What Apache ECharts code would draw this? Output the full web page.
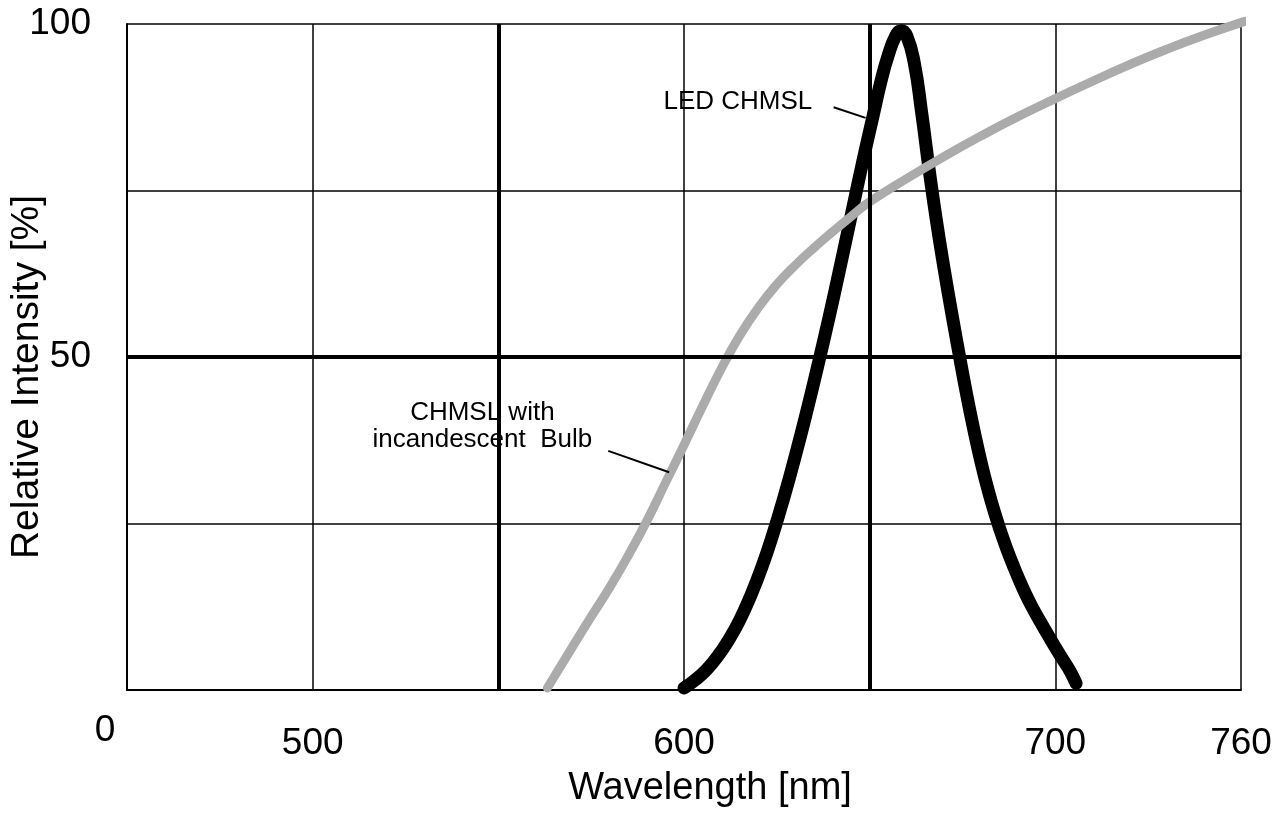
<!DOCTYPE html>
<html>
<head>
<meta charset="utf-8">
<style>
  html, body { margin: 0; padding: 0; background: #fff; }
  #chart { width: 1277px; height: 814px; }
</style>
<script src="https://cdn.jsdelivr.net/npm/echarts@6/dist/echarts.min.js"></script>
</head>
<body>
<div id="chart"></div>
<script>
// ---- data ----
const xTickLabels = { 450: '0', 500: '500', 600: '600', 700: '700', 750: '760' };
const yTickLabels = { 50: '50', 100: '100' };
const thickX = [550, 650];
const thickY = [50];

const ledWavelength = [600, 603, 606, 609, 612, 615, 618, 621, 624, 627, 630, 633, 636, 639, 642, 645, 648, 651, 653, 655, 657, 658.5, 660, 662, 664, 666, 668, 670, 672, 674, 676, 678, 680, 682, 684, 686, 688, 690, 692, 694, 696, 698, 700, 702, 704, 705.6];
const ledIntensity  = [0.3, 1.5, 3, 5, 7.5, 10.5, 14.2, 18.5, 23.5, 29.1, 35.2, 41.7, 48.6, 55.8, 63.4, 71.2, 79, 86.4, 91.3, 95.3, 98.2, 99, 98.2, 94.2, 86.7, 78.2, 70.4, 63.4, 56.9, 50.7, 44.7, 39.2, 34.2, 29.8, 26, 22.6, 19.6, 16.9, 14.4, 12.2, 10.2, 8.3, 6.4, 4.6, 2.8, 1.0];

const bulbWavelength = [563.2, 570, 575, 580, 585, 590, 595, 600, 605, 610, 615, 620, 625, 630, 635, 640, 645, 650, 660, 670, 680, 690, 700, 710, 720, 730, 740, 751];
const bulbIntensity  = [0.3, 6.5, 11, 15.4, 20.2, 25.4, 31.1, 36.8, 42.6, 48.2, 53.2, 57.4, 60.9, 63.8, 66.4, 68.8, 71.1, 73.3, 76.8, 80.1, 83.2, 86.1, 88.8, 91.4, 93.9, 96.2, 98.3, 100.4];

// annotations (data coordinates)
const ledLabel = { text: 'LED CHMSL', at: [614.5, 88.3], pointer: [[640.3, 87.5], [648.9, 85.9]] };
const bulbLabel = { text: 'CHMSL with\nincandescent  Bulb', at: [545.7, 39.6], pointer: [[579.6, 35.9], [596.0, 32.7]] };

const FONT = '"Liberation Sans", Arial, Helvetica, sans-serif';

const zip = (xs, ys) => xs.map((x, i) => [x, ys[i]]);

const chart = echarts.init(document.getElementById('chart'), null, { renderer: 'canvas' });

const option = {
  animation: false,
  backgroundColor: '#fff',
  grid: { left: 127, right: 36, top: 24, bottom: 124, containLabel: false, outerBoundsMode: 'none' },
  xAxis: {
    type: 'value',
    min: 450, max: 750, interval: 50,
    name: 'Wavelength [nm]',
    nameLocation: 'middle',
    nameGap: 80,
    nameMoveOverlap: false,
    nameTextStyle: { fontFamily: FONT, fontSize: 38, color: '#000', padding: [0, 0, 0, 52] },
    axisLine: { show: true, lineStyle: { color: '#000', width: 2 } },
    axisTick: { show: false },
    axisLabel: {
      margin: 23,
      hideOverlap: false,
      fontFamily: FONT, fontSize: 37, color: '#000',
      formatter: v => {
        const t = xTickLabels[v];
        if (t === undefined) return '';
        return v === 450 ? '{z|' + t + '}' : '{n|' + t + '}';
      },
      rich: {
        z: { fontFamily: FONT, fontSize: 37, color: '#000', lineHeight: 36, padding: [0, 44, 0, 0] },
        n: { fontFamily: FONT, fontSize: 37, color: '#000', lineHeight: 62 }
      }
    },
    splitLine: { show: true, lineStyle: { color: '#000', width: 1.5 } }
  },
  yAxis: {
    type: 'value',
    min: 0, max: 100, interval: 25,
    name: 'Relative Intensity [%]',
    nameLocation: 'middle',
    nameRotate: 90,
    nameGap: 80,
    nameMoveOverlap: false,
    nameTextStyle: { fontFamily: FONT, fontSize: 39, color: '#000', padding: [0, 40, 0, 0] },
    axisLine: { show: true, lineStyle: { color: '#000', width: 2 } },
    axisTick: { show: false },
    axisLabel: {
      margin: 36,
      fontFamily: FONT, fontSize: 37, color: '#000',
      formatter: v => (yTickLabels[v] !== undefined ? yTickLabels[v] : '')
    },
    splitLine: { show: true, lineStyle: { color: '#000', width: 1.5 } }
  },
  series: [
    {
      name: 'grid-thick',
      type: 'line',
      data: [],
      silent: true,
      z: 1,
      markLine: {
        silent: true,
        symbol: 'none',
        label: { show: false },
        lineStyle: { color: '#000', width: 4, type: 'solid' },
        data: [
          ...thickX.map(x => ({ xAxis: x })),
          ...thickY.map(y => ({ yAxis: y }))
        ]
      }
    },
    {
      name: 'LED CHMSL',
      type: 'line',
      data: zip(ledWavelength, ledIntensity),
      smooth: true,
      showSymbol: false,
      symbol: 'none',
      z: 3,
      lineStyle: { color: '#000', width: 13, cap: 'round', join: 'round' },
      markLine: {
        silent: true,
        symbol: 'none',
        label: { show: false },
        lineStyle: { color: '#000', width: 2, type: 'solid' },
        data: [[{ coord: ledLabel.pointer[0] }, { coord: ledLabel.pointer[1] }]]
      },
      markPoint: {
        silent: true,
        symbol: 'circle', symbolSize: 1,
        itemStyle: { color: 'rgba(0,0,0,0)' },
        label: {
          show: true, position: 'inside',
          formatter: ledLabel.text,
          fontFamily: FONT, fontSize: 26, color: '#000'
        },
        data: [{ coord: ledLabel.at }]
      }
    },
    {
      name: 'CHMSL with incandescent Bulb',
      type: 'line',
      data: zip(bulbWavelength, bulbIntensity),
      smooth: true,
      showSymbol: false,
      symbol: 'none',
      clip: false,
      z: 4,
      lineStyle: { color: '#ababab', width: 9, cap: 'round', join: 'round' },
      markLine: {
        silent: true,
        symbol: 'none',
        label: { show: false },
        lineStyle: { color: '#000', width: 2, type: 'solid' },
        data: [[{ coord: bulbLabel.pointer[0] }, { coord: bulbLabel.pointer[1] }]]
      },
      markPoint: {
        silent: true,
        symbol: 'circle', symbolSize: 1,
        itemStyle: { color: 'rgba(0,0,0,0)' },
        label: {
          show: true, position: 'inside',
          formatter: bulbLabel.text,
          fontFamily: FONT, fontSize: 26, lineHeight: 27, color: '#000', align: 'center'
        },
        data: [{ coord: bulbLabel.at }]
      }
    }
  ]
};

chart.setOption(option);
</script>
</body>
</html>
